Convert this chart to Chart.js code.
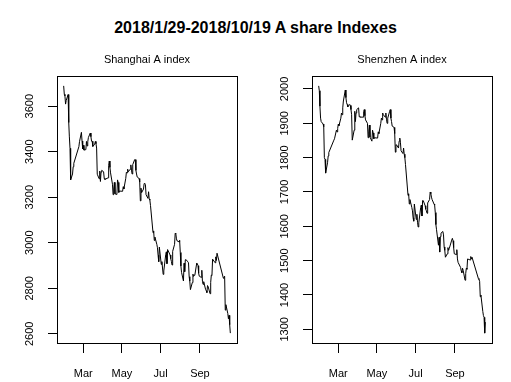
<!DOCTYPE html>
<html>
<head>
<meta charset="utf-8">
<script src="https://cdn.jsdelivr.net/npm/chart.js@4"></script>
<style>
  body { margin: 0; background: #fff; }
  #wrap { position: relative; width: 511px; height: 382px; }
  #title { position: absolute; left: 0; top: 19px; width: 511px; text-align: center;
           font: bold 16px "Liberation Sans", Arial, sans-serif; color: #000; }
  .panel { position: absolute; top: 0; height: 382px; }
</style>
</head>
<body>
<div id="wrap">
  <div id="title">2018/1/29-2018/10/19 A share Indexes</div>
  <div class="panel" style="left:0;width:255px"><canvas id="shChart"></canvas></div>
  <div class="panel" style="left:255px;width:256px"><canvas id="szChart"></canvas></div>
</div>
<script>
// trading days, 2018
const dates = [
  "01-29","01-30","01-31",
  "02-01","02-02","02-05","02-06","02-07","02-08","02-09","02-12","02-13","02-14","02-22","02-23","02-26","02-27","02-28",
  "03-01","03-02","03-05","03-06","03-07","03-08","03-09","03-12","03-13","03-14","03-15","03-16","03-19","03-20","03-21","03-22","03-23","03-26","03-27","03-28","03-29","03-30",
  "04-02","04-03","04-04","04-09","04-10","04-11","04-12","04-13","04-16","04-17","04-18","04-19","04-20","04-23","04-24","04-25","04-26","04-27",
  "05-02","05-03","05-04","05-07","05-08","05-09","05-10","05-11","05-14","05-15","05-16","05-17","05-18","05-21","05-22","05-23","05-24","05-25","05-28","05-29","05-30","05-31",
  "06-01","06-04","06-05","06-06","06-07","06-08","06-11","06-12","06-13","06-14","06-15","06-19","06-20","06-21","06-22","06-25","06-26","06-27","06-28","06-29",
  "07-02","07-03","07-04","07-05","07-06","07-09","07-10","07-11","07-12","07-13","07-16","07-17","07-18","07-19","07-20","07-23","07-24","07-25","07-26","07-27","07-30","07-31",
  "08-01","08-02","08-03","08-06","08-07","08-08","08-09","08-10","08-13","08-14","08-15","08-16","08-17","08-20","08-21","08-22","08-23","08-24","08-27","08-28","08-29","08-30","08-31",
  "09-03","09-04","09-05","09-06","09-07","09-10","09-11","09-12","09-13","09-14","09-17","09-18","09-19","09-20","09-21","09-25","09-26","09-27","09-28",
  "10-08","10-09","10-10","10-11","10-12","10-15","10-16","10-17","10-18","10-19"
];

const shanghai = [
  3689,3652,3645,
  3609,3625,3651,3528,3465,3415,3276,3302,3334,3349,3422,3444,3485,3447,3412,
  3428,3407,3409,3445,3425,3443,3462,3482,3466,3446,3446,3423,3433,3445,3435,3416,3301,3281,3315,3269,3310,3318,
  3312,3283,3278,3285,3340,3359,3331,3307,3257,3211,3236,3265,3215,3212,3276,3265,3221,3227,
  3226,3246,3236,3283,3310,3307,3323,3312,3323,3342,3319,3302,3343,3365,3365,3318,3302,3289,3282,3267,3184,3240,
  3220,3236,3260,3261,3255,3211,3195,3224,3192,3187,3164,3044,3052,3010,3025,2993,2978,2945,2917,2981,
  2905,2917,2889,2861,2876,2947,2960,2908,2970,2964,2946,2930,2918,2902,2962,2993,3042,3039,3017,3008,3004,3011,
  2957,2898,2870,2832,2910,2873,2925,2926,2916,2912,2851,2832,2794,2825,2862,2852,2857,2858,2911,2907,2899,2866,2853,
  2848,2879,2831,2817,2829,2794,2789,2781,2812,2807,2776,2826,2858,2857,2928,2912,2938,2922,2954,
  2844,2849,2853,2704,2728,2689,2666,2681,2640,2603
];

const shenzhen = [
  2009,1995,1950,
  1915,1905,1898,1890,1800,1795,1755,1785,1805,1815,1851,1855,1880,1875,1885,
  1898,1893,1915,1930,1925,1945,1965,1997,1975,1960,1955,1948,1955,1952,1940,1925,1851,1880,1935,1905,1930,1940,
  1945,1920,1918,1918,1934,1940,1922,1910,1900,1858,1875,1895,1860,1848,1880,1872,1855,1858,
  1857,1875,1870,1900,1915,1910,1930,1925,1918,1930,1912,1900,1915,1935,1940,1915,1905,1892,1888,1870,1816,1838,
  1837,1828,1848,1857,1845,1820,1812,1828,1810,1800,1780,1690,1695,1665,1678,1655,1645,1625,1615,1665,
  1620,1635,1612,1598,1610,1655,1662,1630,1675,1675,1660,1650,1645,1638,1668,1678,1700,1695,1685,1678,1665,1662,
  1640,1605,1590,1545,1568,1525,1570,1580,1585,1575,1540,1530,1510,1520,1538,1530,1535,1535,1560,1565,1558,1538,1520,
  1518,1532,1505,1495,1495,1480,1470,1465,1478,1472,1443,1462,1478,1475,1505,1502,1512,1505,1510,
  1448,1445,1440,1395,1400,1352,1340,1335,1289,1321
];

const shTicks = [2600, 2800, 3000, 3200, 3400, 3600];
const szTicks = [1300, 1400, 1500, 1600, 1700, 1800, 1900, 2000];
const monthTicks = ["03-01", "05-01", "07-01", "09-01"];
const monthLabels = ["Mar", "May", "Jul", "Sep"];

function dayNum(md) {
  return Date.UTC(2018, +md.slice(0, 2) - 1, +md.slice(3, 5)) / 864e5;
}

const xs = dates.map(dayNum);
const xTickVals = monthTicks.map(dayNum);

Chart.defaults.font.family = '"Liberation Sans", Arial, sans-serif';
Chart.defaults.color = "#000";

// box around the plot region + panel title, R style
const boxPlugin = {
  id: "rbox",
  afterDraw(chart, args, opts) {
    const a = chart.chartArea;
    const ctx = chart.ctx;
    ctx.save();
    ctx.strokeStyle = "#000";
    ctx.lineWidth = 1;
    ctx.strokeRect(Math.round(a.left) + 0.5, Math.round(a.top) + 0.5,
                   Math.round(a.right - a.left), Math.round(a.bottom - a.top));
    ctx.font = '11px "Liberation Sans", Arial, sans-serif';
    ctx.fillStyle = "#000";
    ctx.textAlign = "center";
    ctx.textBaseline = "middle";
    ctx.fillText(opts.text, (a.left + a.right) / 2, a.top - 16);
    ctx.restore();
  }
};

function padRange(vals) {
  const lo = Math.min(...vals), hi = Math.max(...vals);
  const d = (hi - lo) * 0.04;
  return [lo - d, hi + d];
}

function makePanel(id, title, values, yTicks, canvasW) {
  const [xMin, xMax] = padRange(xs);
  const [yMin, yMax] = padRange(values);
  const el = document.getElementById(id);
  el.width = canvasW;
  el.height = 382;
  new Chart(el.getContext("2d"), {
    type: "line",
    data: {
      datasets: [{
        data: xs.map((x, i) => ({ x: x, y: values[i] })),
        borderColor: "#000",
        borderWidth: 1,
        pointRadius: 0,
        tension: 0,
        fill: false
      }]
    },
    options: {
      responsive: false,
      animation: false,
      layout: { padding: { left: 0, right: canvasW - 237, top: 76, bottom: 0 } },
      plugins: {
        legend: { display: false },
        tooltip: { enabled: false },
        rbox: { text: title }
      },
      scales: {
        x: {
          type: "linear",
          min: xMin,
          max: xMax,
          afterBuildTicks: s => { s.ticks = xTickVals.map(v => ({ value: v })); },
          afterFit: s => { s.height = 39; },
          grid: { drawOnChartArea: false, drawTicks: true, tickLength: 10, color: "#000" },
          border: { display: false },
          ticks: {
            padding: 14,
            maxRotation: 0,
            autoSkip: false,
            font: { size: 11 },
            callback: v => monthLabels[xTickVals.indexOf(v)]
          }
        },
        y: {
          min: yMin,
          max: yMax,
          afterBuildTicks: s => { s.ticks = yTicks.map(v => ({ value: v })); },
          afterFit: s => { s.width = 57; },
          grid: { drawOnChartArea: false, drawTicks: true, tickLength: 9, color: "#000" },
          border: { display: false },
          ticks: {
            minRotation: 90,
            maxRotation: 90,
            crossAlign: "center",
            padding: 6,
            font: { size: 11 },
            callback: v => String(v)
          }
        }
      }
    },
    plugins: [boxPlugin]
  });
}

makePanel("shChart", "Shanghai A index", shanghai, shTicks, 255);
makePanel("szChart", "Shenzhen A index", shenzhen, szTicks, 256);
</script>
</body>
</html>
